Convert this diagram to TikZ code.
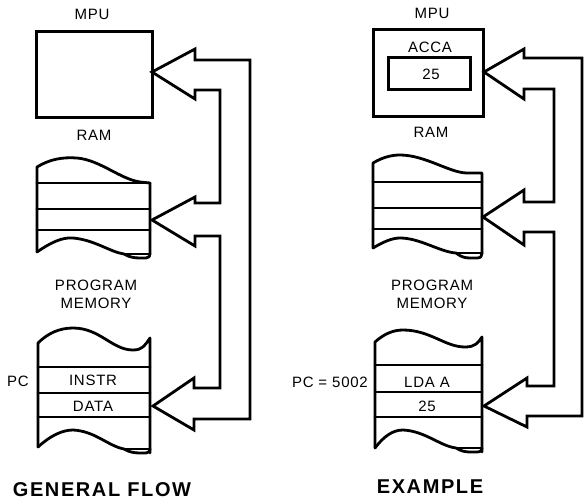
\documentclass[tikz,border=0pt]{standalone}
\usepackage{fontspec}
\setmainfont{Liberation Sans}
\begin{document}
\begin{tikzpicture}[x=1pt,y=-1pt,
  lbl/.style={inner sep=0pt,font=\fontsize{15}{18}\selectfont\addfontfeatures{LetterSpace=5}},
  ttl/.style={inner sep=0pt,font=\fontsize{20}{22}\selectfont\bfseries\addfontfeatures{LetterSpace=8}},
  box/.style={line width=3pt,line join=miter},
  mem/.style={line width=2.8pt,line join=round,line cap=round},
  bus/.style={line width=2.8pt,line join=miter}]
\useasboundingbox (0,0) rectangle (584,503);

% ================= LEFT: GENERAL FLOW =================
\node[lbl] (lmpu) at (92,14) {MPU};
\draw[box] (36,32) rectangle (152,117);
\node[lbl] (lram) at (94,135) {RAM};
% RAM stack
\draw[mem] (37,252) -- (37,167) .. controls (50,159) and (63,157) .. (77,158)
  .. controls (100,160) and (120,179) .. (140,182) -- (150,183) -- (150,254);
\draw[mem] (37,183) -- (150,183);
\draw[mem] (37,209) -- (150,209);
\draw[mem] (37,230) -- (150,230);
\draw[mem] (37,252) .. controls (50,243) and (62,237) .. (73,238)
  .. controls (95,240) and (110,252) .. (124,254)
  .. controls (129,257) and (134,258) .. (140,258) -- (146,258)
  .. controls (149,258) and (150,256) .. (150,254);
\draw[mem] (124,254) -- (150,254);
\node[lbl,align=center] (lprog) at (96,294) {PROGRAM\\MEMORY};
% program memory stack
\draw[mem] (38,447) -- (38,343) .. controls (48,333) and (60,328) .. (73,328)
  .. controls (100,328) and (112,350) .. (133,350)
  .. controls (143,350) and (145,345) .. (150,338) -- (150,453);
\draw[mem] (38,367) -- (150,367);
\draw[mem] (38,393) -- (150,393);
\draw[mem] (38,417) -- (150,417);
\draw[mem] (38,447) .. controls (50,436) and (62,430) .. (73,430)
  .. controls (95,431) and (108,446) .. (124,449)
  .. controls (129,452) and (134,453) .. (140,453) -- (146,453)
  .. controls (149,453) and (150,451) .. (150,449);
\draw[mem] (124,449) -- (150,449);
\node[lbl] (lpc) at (18,381) {PC};
\node[lbl] (linstr) at (93,380) {INSTR};
\node[lbl] (ldata) at (93,406) {DATA};
% hollow bus arrows
\draw[bus] (195,60) -- (250,60) -- (250,419) -- (194,419) -- (194,430) -- (153,406)
  -- (194,378) -- (194,388) -- (220,388) -- (220,236) -- (195,236) -- (195,246)
  -- (152,220) -- (195,197) -- (195,203) -- (220,203) -- (220,90) -- (195,90)
  -- (195,99) -- (152,72) -- (195,49) -- cycle;
\node[ttl] (lttl) at (102,490) {GENERAL FLOW};

% ================= RIGHT: EXAMPLE =================
\node[lbl] (rmpu) at (432,13) {MPU};
\draw[box] (373,30) rectangle (483,116);
\node[lbl] (racca) at (430,47) {ACCA};
\draw[box] (388,58) rectangle (470,90);
\node[lbl] (rval) at (431,74) {25};
\node[lbl] (rram) at (431,132) {RAM};
% RAM stack
\draw[mem] (373,248) -- (373,163) .. controls (383,157) and (392,155) .. (400,155)
  .. controls (425,155) and (450,173) .. (467,173) -- (482,173) -- (482,253);
\draw[mem] (373,182) -- (482,182);
\draw[mem] (373,208) -- (482,208);
\draw[mem] (373,229) -- (482,229);
\draw[mem] (373,248) .. controls (383,242) and (392,238) .. (400,238)
  .. controls (420,238) and (440,252) .. (456,253)
  .. controls (461,257) and (465,258) .. (470,258) -- (477,258)
  .. controls (481,258) and (482,256) .. (482,253);
\draw[mem] (456,253) -- (482,253);
\node[lbl,align=center] (rprog) at (432,294) {PROGRAM\\MEMORY};
% program memory stack
\draw[mem] (375,448) -- (375,342) .. controls (384,334) and (393,330) .. (403,330)
  .. controls (430,330) and (445,347) .. (465,347)
  .. controls (475,347) and (478,343) .. (482,337) -- (482,452);
\draw[mem] (375,365) -- (482,365);
\draw[mem] (375,392) -- (482,392);
\draw[mem] (375,417) -- (482,417);
\draw[mem] (375,448) .. controls (384,436) and (393,430) .. (403,430)
  .. controls (425,431) and (440,446) .. (456,448)
  .. controls (461,451) and (465,452) .. (470,452) -- (477,452)
  .. controls (481,452) and (482,450) .. (482,448);
\draw[mem] (456,448) -- (482,448);
\node[lbl,anchor=east] (rpc) at (368,382) {PC = 5002};
\node[lbl] (rlda) at (427,382) {LDA A};
\node[lbl] (rdat) at (427,406) {25};
% hollow bus arrows
\draw[bus] (524,58) -- (582,58) -- (582,416) -- (527,416) -- (527,427) -- (484,406)
  -- (527,378) -- (527,386) -- (554,386) -- (554,232) -- (524,232) -- (524,245)
  -- (483,217) -- (524,190) -- (524,202) -- (554,202) -- (554,89) -- (524,89)
  -- (524,99) -- (484,72) -- (524,49) -- cycle;
\node[ttl] (rttl) at (430,487) {EXAMPLE};
\end{tikzpicture}
\end{document}
